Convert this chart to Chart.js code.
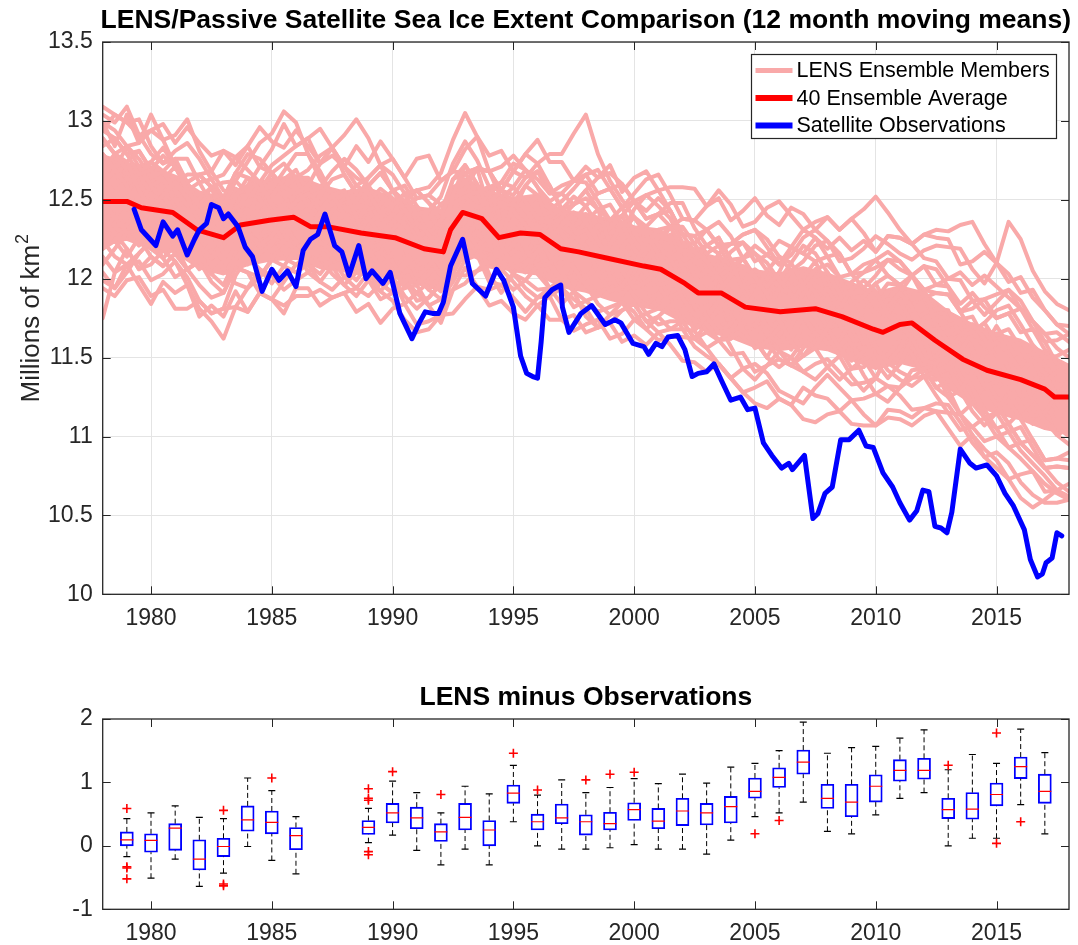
<!DOCTYPE html>
<html>
<head>
<meta charset="utf-8">
<script src="https://cdn.jsdelivr.net/npm/chart.js@4.4.1/dist/chart.umd.min.js"></script>
<style>
  html, body { margin: 0; padding: 0; background: #fff; }
  #wrap { position: relative; width: 1078px; height: 945px; }
  canvas { position: absolute; left: 0; }
  #top { top: 0; }
  #bottom { top: 645px; }
</style>
</head>
<body>
<div id="wrap">
  <canvas id="top" width="1078" height="645"></canvas>
  <canvas id="bottom" width="1078" height="300"></canvas>
</div>
<script>
// ---- top panel: 12 month moving means, millions of km2 ----
const xTicks = [1980, 1985, 1990, 1995, 2000, 2005, 2010, 2015];

const obsTimes = [1979.3, 1979.6, 1980.2, 1980.5, 1980.9, 1981.1, 1981.5, 1981.8, 1982.0, 1982.3,
  1982.5, 1982.8, 1983.0, 1983.2, 1983.6, 1983.9, 1984.2, 1984.6, 1985.0, 1985.3,
  1985.65, 1986.0, 1986.3, 1986.6, 1986.9, 1987.2, 1987.6, 1987.9, 1988.2, 1988.6,
  1988.9, 1989.15, 1989.6, 1989.9, 1990.3, 1990.8, 1991.1, 1991.35, 1991.65, 1991.9,
  1992.1, 1992.4, 1992.9, 1993.3, 1993.85, 1994.3, 1994.6, 1995.0, 1995.3, 1995.55,
  1995.8, 1996.0, 1996.15, 1996.3, 1996.6, 1996.96, 1997.03, 1997.3, 1997.8, 1998.24,
  1998.8, 1999.2, 1999.45, 1999.95, 2000.4, 2000.6, 2000.9, 2001.15, 2001.4, 2001.8,
  2002.1, 2002.4, 2002.65, 2003.0, 2003.3, 2003.6, 2004.0, 2004.4, 2004.7, 2005.0,
  2005.35, 2005.7, 2006.1, 2006.4, 2006.55, 2007.05, 2007.4, 2007.6, 2007.9, 2008.2,
  2008.55, 2008.9, 2009.3, 2009.6, 2009.9, 2010.3, 2010.7, 2011.0, 2011.4, 2011.7,
  2011.95, 2012.2, 2012.45, 2012.7, 2012.95, 2013.15, 2013.5, 2013.9, 2014.15, 2014.6,
  2015.0, 2015.35, 2015.7, 2016.15, 2016.4, 2016.7, 2016.9, 2017.05, 2017.3, 2017.5, 2017.7];
const obsValues = [12.44, 12.31, 12.21, 12.36, 12.27, 12.31, 12.15, 12.25, 12.31, 12.35,
  12.47, 12.45, 12.38, 12.41, 12.33, 12.20, 12.14, 11.92, 12.06, 11.99,
  12.05, 11.95, 12.18, 12.25, 12.28, 12.41, 12.21, 12.17, 12.02, 12.21,
  12.00, 12.05, 11.97, 12.04, 11.78, 11.62, 11.72, 11.79, 11.78, 11.78,
  11.85, 12.08, 12.25, 11.97, 11.89, 12.06, 11.99, 11.82, 11.51, 11.40,
  11.38, 11.37, 11.60, 11.88, 11.93, 11.96, 11.82, 11.66, 11.78, 11.83,
  11.71, 11.74, 11.72, 11.59, 11.57, 11.52, 11.59, 11.57, 11.63, 11.64,
  11.55, 11.38, 11.40, 11.41, 11.46, 11.36, 11.23, 11.25, 11.17, 11.18,
  10.96, 10.88, 10.80, 10.83, 10.79, 10.88, 10.48, 10.51, 10.64, 10.68,
  10.98, 10.98, 11.04, 10.94, 10.93, 10.77, 10.68, 10.58, 10.47, 10.53,
  10.66, 10.65, 10.43, 10.42, 10.39, 10.52, 10.92, 10.83, 10.80, 10.82,
  10.75, 10.64, 10.56, 10.41, 10.22, 10.11, 10.13, 10.20, 10.23, 10.39, 10.37];

const avgTimes = [1978.0, 1979.0, 1979.6, 1980.9, 1981.9, 1983.0, 1983.7, 1984.9, 1985.9, 1986.6,
  1987.3, 1988.7, 1990.1, 1991.3, 1992.1, 1992.4, 1992.9, 1993.7, 1994.4, 1995.3,
  1996.1, 1996.96, 1997.7, 1998.9, 2000.4, 2001.1, 2002.1, 2002.65, 2003.6, 2004.6,
  2006.05, 2007.5, 2008.6, 2009.9, 2010.3, 2011.0, 2011.5, 2012.45, 2013.6, 2014.6,
  2016.0, 2017.0, 2017.4, 2018.0];
const avgValues = [12.49, 12.49, 12.45, 12.42, 12.31, 12.26, 12.34, 12.37, 12.39, 12.33,
  12.33, 12.29, 12.26, 12.19, 12.17, 12.31, 12.42, 12.38, 12.26, 12.29,
  12.28, 12.19, 12.17, 12.13, 12.08, 12.06, 11.97, 11.91, 11.91, 11.82,
  11.79, 11.81, 11.76, 11.68, 11.66, 11.71, 11.72, 11.61, 11.49, 11.42,
  11.36, 11.30, 11.25, 11.25];

// dense middle of the ensemble spread, where the member lines overlap into one band
const coreTimes = [1978, 1979, 1980, 1981, 1982, 1983, 1984, 1985, 1986, 1987,
  1988, 1989, 1990, 1991, 1992, 1993, 1994, 1995, 1996, 1997,
  1998, 1999, 2000, 2001, 2002, 2003, 2004, 2005, 2006, 2007,
  2008, 2009, 2010, 2011, 2012, 2013, 2014, 2015, 2016, 2017, 2018];
const coreUpper = [12.78, 12.73, 12.71, 12.65, 12.55, 12.51, 12.59, 12.63, 12.65, 12.59,
  12.55, 12.57, 12.51, 12.45, 12.43, 12.63, 12.55, 12.51, 12.53, 12.43,
  12.41, 12.37, 12.33, 12.31, 12.23, 12.15, 12.11, 12.05, 12.03, 12.07,
  12.03, 11.97, 11.91, 11.95, 11.91, 11.79, 11.71, 11.65, 11.61, 11.53, 11.45];
const coreLower = [12.22, 12.25, 12.19, 12.17, 12.07, 12.03, 12.09, 12.12, 12.13, 12.07,
  12.05, 12.02, 12.01, 11.97, 11.93, 12.17, 12.09, 12.05, 12.03, 11.95,
  11.92, 11.87, 11.83, 11.81, 11.73, 11.67, 11.63, 11.57, 11.55, 11.57,
  11.55, 11.49, 11.43, 11.47, 11.43, 11.31, 11.21, 11.15, 11.11, 11.05, 11.02];

const memberTimes = [1978, 1978.5, 1979, 1979.5, 1980, 1980.5, 1981, 1981.5, 1982, 1982.5,
  1983, 1983.5, 1984, 1984.5, 1985, 1985.5, 1986, 1986.5, 1987, 1987.5,
  1988, 1988.5, 1989, 1989.5, 1990, 1990.5, 1991, 1991.5, 1992, 1992.5,
  1993, 1993.5, 1994, 1994.5, 1995, 1995.5, 1996, 1996.5, 1997, 1997.5,
  1998, 1998.5, 1999, 1999.5, 2000, 2000.5, 2001, 2001.5, 2002, 2002.5,
  2003, 2003.5, 2004, 2004.5, 2005, 2005.5, 2006, 2006.5, 2007, 2007.5,
  2008, 2008.5, 2009, 2009.5, 2010, 2010.5, 2011, 2011.5, 2012, 2012.5,
  2013, 2013.5, 2014, 2014.5, 2015, 2015.5, 2016, 2016.5, 2017, 2017.5, 2018];

const member01 = [13.09,13.04,12.99,12.91,12.79,12.73,12.76,12.76,12.61,12.48,
  12.36,12.52,12.64,12.61,12.47,12.38,12.29,12.29,12.43,12.53,
  12.56,12.39,12.19,12.07,12.16,12.29,12.36,12.28,12.17,12.28,
  12.32,12.20,12.18,12.26,12.48,12.59,12.53,12.34,12.14,12.07,
  11.96,12.04,12.22,12.35,12.39,12.28,12.16,12.03,11.88,11.77,
  11.81,11.91,12.02,12.08,12.01,11.90,11.74,11.60,11.51,11.56,
  11.69,11.81,11.93,11.99,11.92,11.77,11.71,11.62,11.48,11.46,
  11.55,11.64,11.71,11.62,11.45,11.28,11.16,11.23,11.35,11.41, 11.45];
const member02 = [11.75,12.04,12.09,12.11,11.99,12.03,12.11,12.01,11.86,11.78,
  11.81,12.02,12.14,12.06,11.97,12.08,12.19,12.04,11.98,12.08,
  12.11,12.24,12.39,12.27,12.11,11.94,12.01,12.08,12.17,12.53,
  12.72,12.60,12.43,12.21,12.08,12.04,12.18,12.29,12.39,12.47,
  12.56,12.44,12.22,12.05,11.94,11.98,12.06,12.13,12.18,12.17,
  12.11,12.01,11.87,11.68,11.56,11.60,11.69,11.85,11.96,12.06,
  12.09,12.01,11.83,11.64,11.47,11.37,11.46,11.62,11.73,11.71,
  11.60,11.44,11.31,11.12,11.00,11.03,11.06,10.93,10.80,10.71, 10.65];
const member03 = [12.69,12.79,12.74,12.56,12.44,12.53,12.61,12.51,12.36,12.38,
  12.46,12.62,12.74,12.86,12.92,13.06,12.99,12.79,12.63,12.53,
  12.41,12.29,12.19,12.22,12.36,12.44,12.31,12.13,12.02,12.13,
  12.12,12.20,12.28,12.36,12.33,12.19,12.08,12.09,12.19,12.27,
  12.21,12.04,11.92,11.95,12.09,12.23,12.31,12.23,12.08,11.92,
  11.76,11.66,11.67,11.78,11.91,12.05,12.14,12.10,11.96,11.81,
  11.69,11.56,11.48,11.54,11.67,11.82,11.91,11.82,11.63,11.41,
  11.25,11.29,11.41,11.52,11.60,11.53,11.41,11.23,11.10,11.01, 11.05];
const member04 = [12.84,12.89,12.79,12.66,12.69,12.78,12.71,12.56,12.46,12.48,
  12.51,12.47,12.34,12.26,12.37,12.48,12.44,12.29,12.33,12.43,
  12.51,12.59,12.54,12.42,12.46,12.54,12.56,12.58,12.67,12.88,
  13.05,12.90,12.68,12.56,12.48,12.39,12.28,12.14,12.14,12.27,
  12.36,12.44,12.47,12.35,12.19,12.08,11.96,11.98,12.08,12.12,
  12.21,12.26,12.12,11.93,11.81,11.70,11.64,11.75,11.91,12.01,
  12.04,11.91,11.73,11.59,11.62,11.77,11.91,12.02,11.93,11.71,
  11.55,11.39,11.26,11.12,11.15,11.28,11.41,11.48,11.40,11.26, 11.15];
const member05 = [12.49,12.39,12.29,12.31,12.44,12.53,12.41,12.26,12.26,12.33,
  12.41,12.42,12.29,12.21,12.27,12.38,12.49,12.54,12.48,12.33,
  12.21,12.09,12.19,12.32,12.41,12.34,12.21,12.28,12.37,12.48,
  12.52,12.45,12.48,12.56,12.68,12.64,12.73,12.79,12.79,12.92,
  13.04,12.79,12.62,12.50,12.39,12.28,12.31,12.33,12.18,12.02,
  11.91,12.01,12.07,12.13,12.16,12.10,11.99,11.90,11.81,11.71,
  11.59,11.61,11.73,11.79,11.87,11.97,11.96,11.82,11.68,11.66,
  11.70,11.74,11.76,11.62,11.50,11.38,11.26,11.28,11.35,11.26, 11.20];
const member06 = [12.19,12.29,12.19,12.06,12.09,12.18,12.11,11.96,11.81,11.73,
  11.62,11.82,11.94,12.06,12.02,11.93,11.99,12.04,12.13,12.08,
  11.96,11.89,11.99,12.07,12.01,11.89,11.81,11.88,11.97,12.03,
  12.02,12.05,12.08,12.06,11.98,11.89,11.83,11.89,11.94,11.87,
  11.81,11.69,11.72,11.80,11.84,11.73,11.76,11.83,11.83,11.67,
  11.56,11.46,11.37,11.43,11.46,11.40,11.29,11.25,11.21,11.31,
  11.39,11.31,11.23,11.24,11.27,11.32,11.26,11.17,11.18,11.21,
  11.20,11.09,10.96,10.87,10.90,10.83,10.71,10.63,10.58,10.58, 10.60];
const member07 = [12.99,12.94,12.84,12.86,12.94,12.88,12.71,12.61,12.66,12.68,
  12.56,12.52,12.59,12.71,12.67,12.58,12.54,12.59,12.73,12.83,
  12.91,13.01,12.89,12.72,12.56,12.44,12.31,12.18,12.07,12.13,
  12.27,12.35,12.43,12.46,12.43,12.34,12.23,12.24,12.34,12.42,
  12.36,12.24,12.12,12.00,12.04,12.18,12.26,12.33,12.33,12.22,
  12.11,12.01,11.82,11.68,11.71,11.80,11.94,12.05,12.01,11.91,
  11.79,11.86,11.98,12.04,12.12,12.17,12.11,12.02,11.88,11.71,
  11.60,11.64,11.66,11.72,11.80,11.83,11.71,11.58,11.50,11.51, 11.55];
const member08 = [12.59,12.69,12.59,12.41,12.34,12.43,12.51,12.36,12.21,12.13,
  12.21,12.42,12.54,12.51,12.37,12.23,12.19,12.24,12.38,12.48,
  12.41,12.24,12.14,12.17,12.31,12.39,12.31,12.18,12.07,12.18,
  12.32,12.40,12.48,12.51,12.48,12.34,12.18,12.09,12.14,12.27,
  12.31,12.19,12.02,11.90,11.99,12.13,12.21,12.13,11.98,11.82,
  11.86,12.01,12.07,11.98,11.81,11.65,11.59,11.70,11.86,11.96,
  11.89,11.71,11.58,11.59,11.72,11.87,11.86,11.72,11.53,11.41,
  11.45,11.54,11.66,11.72,11.60,11.43,11.26,11.13,11.15,11.26, 11.35];
const member09 = [12.39,12.29,12.34,12.46,12.54,12.48,12.31,12.16,12.16,12.28,
  12.36,12.37,12.24,12.16,12.22,12.33,12.49,12.54,12.43,12.28,
  12.16,12.19,12.34,12.42,12.36,12.19,12.01,11.93,12.02,12.33,
  12.52,12.55,12.38,12.16,12.08,12.14,12.28,12.34,12.24,12.07,
  11.96,11.89,11.97,12.10,12.19,12.13,11.96,11.83,11.68,11.67,
  11.76,11.86,11.87,11.73,11.61,11.50,11.44,11.50,11.61,11.56,
  11.44,11.36,11.43,11.49,11.52,11.42,11.36,11.32,11.38,11.41,
  11.30,11.14,11.01,10.92,10.85,10.73,10.61,10.55,10.60,10.66, 10.70];
const member10 = [12.79,12.69,12.59,12.66,12.74,12.68,12.56,12.46,12.51,12.58,
  12.61,12.62,12.54,12.46,12.52,12.63,12.69,12.54,12.43,12.33,
  12.26,12.34,12.49,12.57,12.51,12.34,12.21,12.23,12.37,12.63,
  12.72,12.60,12.43,12.31,12.43,12.59,12.68,12.59,12.44,12.37,
  12.46,12.54,12.57,12.45,12.29,12.18,12.21,12.33,12.38,12.37,
  12.31,12.21,12.22,12.28,12.31,12.20,12.09,12.15,12.26,12.31,
  12.24,12.11,12.13,12.19,12.27,12.22,12.16,12.12,12.18,12.21,
  12.20,12.19,12.06,11.97,12.10,12.36,12.25,12.05,11.92,11.84, 11.80];
const member11 = [12.29,12.39,12.49,12.36,12.19,12.13,12.21,12.26,12.16,12.03,
  11.96,12.12,12.24,12.31,12.22,12.13,12.09,12.14,12.23,12.18,
  12.06,11.99,12.09,12.17,12.11,11.99,11.86,11.88,11.97,12.08,
  12.22,12.30,12.18,12.01,11.93,11.99,12.08,12.14,12.04,11.92,
  11.86,11.89,11.97,12.00,11.89,11.78,11.81,11.88,11.93,11.82,
  11.71,11.61,11.62,11.68,11.71,11.60,11.49,11.45,11.56,11.66,
  11.69,11.56,11.43,11.44,11.52,11.47,11.41,11.37,11.43,11.46,
  11.45,11.29,11.16,11.07,11.15,11.23,11.11,10.98,10.85,10.86, 10.90];
const member12 = [12.89,12.79,12.69,12.71,12.59,12.48,12.51,12.56,12.61,12.63,
  12.66,12.77,12.69,12.61,12.57,12.68,12.79,12.79,12.68,12.53,
  12.41,12.49,12.64,12.72,12.66,12.54,12.41,12.43,12.52,12.73,
  12.87,12.75,12.58,12.56,12.68,12.79,12.73,12.59,12.44,12.47,
  12.56,12.64,12.67,12.60,12.49,12.38,12.41,12.48,12.48,12.32,
  12.21,12.16,12.22,12.28,12.31,12.25,12.14,12.05,12.11,12.21,
  12.24,12.16,12.03,11.94,12.02,12.12,12.11,12.02,11.93,11.96,
  12.00,11.99,11.86,11.77,11.85,11.93,11.86,11.73,11.60,11.46, 11.40];
const member13 = [12.44,12.54,12.64,12.56,12.44,12.33,12.36,12.41,12.41,12.28,
  12.16,12.12,12.19,12.36,12.47,12.43,12.29,12.14,12.18,12.28,
  12.31,12.19,12.04,11.92,11.86,11.74,11.66,11.68,11.77,12.03,
  12.17,12.25,12.33,12.36,12.28,12.19,12.23,12.34,12.39,12.32,
  12.16,12.04,12.07,12.20,12.29,12.23,12.06,11.93,11.93,11.97,
  12.01,11.91,11.72,11.63,11.71,11.85,11.94,11.90,11.76,11.66,
  11.69,11.76,11.83,11.74,11.57,11.47,11.56,11.72,11.78,11.81,
  11.80,11.64,11.46,11.32,11.35,11.48,11.56,11.43,11.25,11.06, 11.00];
const member14 = [12.64,12.54,12.44,12.46,12.59,12.63,12.51,12.31,12.31,12.38,
  12.31,12.27,12.34,12.46,12.57,12.53,12.39,12.24,12.28,12.38,
  12.46,12.39,12.29,12.22,12.31,12.39,12.31,12.18,12.07,12.28,
  12.32,12.20,12.08,12.06,12.18,12.14,12.03,11.94,11.99,12.02,
  11.96,11.84,11.77,11.80,11.84,11.73,11.66,11.68,11.68,11.57,
  11.51,11.46,11.37,11.28,11.21,11.18,11.24,11.20,11.11,11.09,
  11.14,11.16,11.08,11.07,11.07,11.12,11.11,11.07,11.13,11.16,
  11.15,11.04,11.06,11.12,11.15,11.03,10.91,10.83,10.75,10.66, 10.60];
const member15 = [12.94,13.04,12.99,13.01,12.84,12.73,12.81,12.86,12.76,12.63,
  12.51,12.67,12.79,12.76,12.67,12.58,12.64,12.69,12.78,12.83,
  12.71,12.59,12.64,12.72,12.76,12.64,12.51,12.53,12.62,12.68,
  12.67,12.55,12.53,12.61,12.73,12.69,12.58,12.44,12.49,12.57,
  12.66,12.69,12.57,12.45,12.54,12.63,12.66,12.53,12.38,12.37,
  12.46,12.56,12.47,12.33,12.36,12.45,12.49,12.40,12.31,12.36,
  12.39,12.31,12.38,12.44,12.52,12.42,12.31,12.22,12.28,12.31,
  12.30,12.34,12.36,12.22,12.10,12.03,11.91,11.93,11.80,11.71, 11.70];
const member16 = [12.09,12.19,12.29,12.21,12.29,12.38,12.31,12.16,12.06,12.13,
  12.26,12.42,12.34,12.26,12.17,12.23,12.39,12.44,12.38,12.28,
  12.16,12.09,12.19,12.27,12.31,12.19,12.06,12.08,12.22,12.33,
  12.32,12.20,12.18,12.26,12.38,12.34,12.23,12.09,12.09,12.17,
  12.26,12.34,12.27,12.15,11.99,11.93,12.01,12.13,12.13,12.02,
  11.91,11.81,11.82,11.93,11.96,11.85,11.74,11.70,11.81,11.91,
  11.94,11.81,11.63,11.54,11.62,11.72,11.71,11.57,11.48,11.51,
  11.60,11.69,11.56,11.37,11.25,11.18,11.26,11.38,11.40,11.26, 11.20];
const member17 = [11.99,11.94,12.04,12.16,12.24,12.13,12.01,12.06,12.11,12.18,
  12.06,11.97,11.94,12.01,12.12,12.28,12.39,12.24,12.13,12.03,
  11.96,12.04,12.19,12.22,12.11,12.04,12.11,12.18,12.27,12.38,
  12.37,12.20,12.03,11.91,12.03,12.14,12.08,11.94,11.84,11.92,
  12.01,12.09,12.17,12.05,11.89,11.83,11.91,11.98,11.98,11.82,
  11.66,11.61,11.67,11.78,11.81,11.70,11.54,11.45,11.51,11.61,
  11.64,11.51,11.38,11.29,11.37,11.52,11.61,11.52,11.38,11.36,
  11.40,11.44,11.46,11.32,11.20,11.08,10.96,10.88,10.80,10.81, 10.80];
const member18 = [12.74,12.64,12.74,12.81,12.69,12.58,12.61,12.66,12.66,12.58,
  12.46,12.42,12.49,12.61,12.72,12.78,12.84,12.89,12.95,12.83,
  12.66,12.54,12.44,12.47,12.56,12.59,12.46,12.33,12.37,12.48,
  12.52,12.55,12.58,12.61,12.58,12.49,12.38,12.39,12.44,12.52,
  12.46,12.34,12.22,12.30,12.44,12.53,12.56,12.43,12.28,12.17,
  12.01,12.06,12.17,12.23,12.16,12.05,11.99,12.10,12.21,12.16,
  12.04,11.91,11.83,11.89,11.97,12.02,11.96,11.87,11.88,11.91,
  11.90,11.79,11.66,11.57,11.65,11.68,11.56,11.43,11.30,11.16, 11.10];
const member19 = [12.24,12.14,12.09,12.16,12.24,12.33,12.21,12.06,11.96,11.88,
  11.91,12.07,12.04,11.91,11.87,11.98,12.09,12.09,11.98,11.93,
  12.01,12.09,11.99,11.87,11.91,12.04,12.06,11.93,11.87,11.93,
  11.97,12.05,12.13,12.11,12.03,11.94,11.88,11.94,11.99,11.92,
  11.76,11.69,11.77,11.85,11.79,11.68,11.61,11.63,11.63,11.62,
  11.66,11.71,11.57,11.43,11.36,11.45,11.54,11.50,11.41,11.36,
  11.44,11.51,11.53,11.39,11.27,11.22,11.31,11.42,11.43,11.31,
  11.35,11.39,11.31,11.17,11.05,10.93,10.86,10.78,10.70,10.64, 10.60];
const member20 = [12.89,12.79,12.84,12.76,12.64,12.68,12.76,12.61,12.46,12.38,
  12.41,12.57,12.54,12.46,12.37,12.43,12.54,12.54,12.58,12.68,
  12.76,12.69,12.59,12.47,12.36,12.44,12.51,12.53,12.47,12.53,
  12.62,12.70,12.68,12.71,12.78,12.69,12.58,12.49,12.54,12.62,
  12.61,12.49,12.37,12.40,12.49,12.53,12.46,12.38,12.23,12.22,
  12.31,12.36,12.27,12.13,12.01,11.95,12.04,12.20,12.31,12.26,
  12.14,12.01,12.03,12.09,12.12,12.02,11.96,12.02,12.08,12.06,
  11.95,11.79,11.81,11.87,11.90,11.93,11.81,11.68,11.60,11.61, 11.65];
const member21 = [12.99,12.84,13.04,12.86,13.04,12.88,12.91,13.01,12.81,12.68,
  12.81,12.72,12.84,12.71,12.82,12.98,12.84,12.89,12.73,12.83,
  12.71,12.84,12.74,12.87,12.76,12.64,12.76,12.78,12.62,12.68,
  12.82,12.90,12.78,12.81,12.68,12.79,12.88,12.74,12.74,12.62,
  12.71,12.64,12.72,12.55,12.64,12.68,12.56,12.58,12.58,12.57,
  12.46,12.51,12.37,12.43,12.51,12.40,12.34,12.45,12.41,12.31,
  12.39,12.31,12.38,12.29,12.17,12.27,12.26,12.22,12.28,12.26,
  12.25,12.09,12.11,12.17,12.10,11.98,12.01,11.88,11.80,11.71, 11.65];
const member22 = [12.04,11.94,12.09,11.96,11.84,11.98,11.91,11.96,11.76,11.83,
  11.76,11.92,11.79,11.91,11.87,11.78,11.94,11.94,11.83,11.88,
  11.91,11.79,11.84,11.72,11.81,11.84,11.71,11.73,11.77,11.78,
  11.87,11.95,11.83,11.86,11.78,11.74,11.83,11.74,11.74,11.77,
  11.66,11.69,11.72,11.60,11.64,11.58,11.66,11.58,11.48,11.47,
  11.41,11.46,11.37,11.28,11.31,11.35,11.24,11.20,11.31,11.26,
  11.24,11.16,11.23,11.14,11.07,11.17,11.16,11.12,11.18,11.16,
  11.05,10.94,11.01,10.87,10.80,10.73,10.76,10.78,10.65,10.66, 10.62];
const member23 = [12.79,12.69,12.84,12.71,12.74,12.83,12.71,12.61,12.66,12.58,
  12.51,12.67,12.64,12.56,12.67,12.73,12.64,12.64,12.53,12.63,
  12.66,12.54,12.59,12.67,12.56,12.49,12.56,12.48,12.42,12.63,
  12.67,12.70,12.68,12.56,12.53,12.64,12.68,12.54,12.54,12.47,
  12.51,12.44,12.37,12.45,12.49,12.38,12.41,12.43,12.28,12.27,
  12.31,12.21,12.22,12.23,12.11,12.15,12.24,12.20,12.16,12.11,
  12.14,12.16,12.03,12.04,12.07,12.12,12.06,12.02,12.08,11.96,
  11.95,11.84,11.91,11.82,11.75,11.78,11.81,11.73,11.65,11.66, 11.60];
const member24 = [12.19,12.24,12.14,12.26,12.14,12.08,12.16,12.06,12.11,11.98,
  11.91,12.07,12.04,12.01,12.12,12.08,12.04,12.09,12.03,12.13,
  12.01,11.94,12.04,11.97,11.91,11.94,11.96,11.83,11.87,11.98,
  12.12,12.15,11.98,11.96,12.03,11.99,11.93,11.94,11.94,11.82,
  11.86,11.79,11.82,11.85,11.74,11.78,11.71,11.73,11.73,11.62,
  11.56,11.61,11.52,11.53,11.41,11.45,11.49,11.45,11.41,11.46,
  11.49,11.41,11.33,11.34,11.37,11.32,11.31,11.37,11.38,11.26,
  11.15,11.14,11.06,10.97,11.00,10.93,10.96,10.88,10.80,10.81, 10.80];
const member25 = [12.94,12.89,12.79,12.81,12.69,12.63,12.71,12.56,12.41,12.43,
  12.31,12.32,12.44,12.36,12.27,12.33,12.24,12.14,12.23,12.13,
  12.06,12.14,11.99,11.92,12.01,11.84,11.91,11.83,11.72,11.93,
  12.07,11.95,11.93,11.96,11.88,11.79,11.88,11.89,11.74,11.67,
  11.71,11.74,11.62,11.65,11.74,11.68,11.76,11.68,11.73,11.62,
  11.71,11.66,11.72,11.63,11.71,11.65,11.74,11.70,11.81,11.86,
  11.89,11.81,11.88,11.89,11.77,11.87,11.96,11.87,11.93,11.91,
  11.90,11.79,11.86,11.87,11.75,11.78,11.66,11.68,11.55,11.46, 11.40];
const member26 = [12.14,12.04,12.19,12.06,12.14,12.08,12.16,12.06,12.11,12.03,
  12.11,12.12,12.24,12.21,12.32,12.28,12.39,12.29,12.38,12.33,
  12.41,12.34,12.44,12.47,12.36,12.39,12.46,12.38,12.47,12.53,
  12.67,12.70,12.68,12.51,12.58,12.69,12.63,12.54,12.59,12.62,
  12.66,12.54,12.57,12.60,12.49,12.43,12.51,12.43,12.28,12.27,
  12.16,12.21,12.07,11.98,12.06,12.00,11.89,11.95,11.86,11.81,
  11.69,11.71,11.58,11.49,11.57,11.47,11.46,11.57,11.43,11.31,
  11.25,11.14,11.21,11.12,11.05,11.08,10.96,10.98,10.85,10.86, 10.85];
const member27 = [12.64,12.79,12.54,12.66,12.54,12.68,12.46,12.56,12.46,12.58,
  12.36,12.57,12.39,12.56,12.67,12.48,12.64,12.44,12.53,12.38,
  12.51,12.39,12.54,12.32,12.46,12.54,12.36,12.43,12.27,12.53,
  12.57,12.70,12.43,12.46,12.33,12.44,12.53,12.34,12.39,12.32,
  12.41,12.24,12.32,12.40,12.24,12.28,12.16,12.28,12.13,12.12,
  12.01,12.16,12.02,12.13,12.01,11.90,12.04,11.95,12.01,12.11,
  11.94,12.01,11.83,11.89,11.97,11.82,11.91,11.82,11.93,11.76,
  11.75,11.59,11.71,11.57,11.70,11.58,11.46,11.53,11.45,11.36, 11.35];
const member28 = [12.34,12.44,12.29,12.36,12.19,12.33,12.21,12.31,12.16,12.18,
  12.06,12.22,12.09,12.21,12.32,12.18,12.29,12.09,12.23,12.13,
  12.21,12.04,12.14,12.22,12.06,12.14,11.96,12.03,12.12,12.18,
  12.22,12.30,12.08,12.11,12.23,12.09,12.18,12.04,11.94,12.07,
  12.01,11.89,12.02,11.90,12.04,11.93,11.81,11.93,11.78,11.77,
  11.71,11.81,11.62,11.68,11.61,11.50,11.64,11.55,11.71,11.61,
  11.64,11.51,11.63,11.49,11.37,11.52,11.51,11.47,11.53,11.51,
  11.35,11.34,11.21,11.32,11.20,11.08,11.16,11.08,11.15,11.06, 11.05];
const member29 = [13.04,12.99,13.09,12.91,12.94,12.98,12.86,12.96,12.86,12.78,
  12.81,12.77,12.84,12.96,12.87,12.83,12.94,12.84,12.73,12.78,
  12.71,12.64,12.59,12.67,12.56,12.49,12.56,12.48,12.37,12.58,
  12.62,12.55,12.58,12.36,12.43,12.34,12.38,12.44,12.29,12.17,
  12.21,12.09,12.12,12.20,12.09,11.98,12.01,12.03,12.08,11.97,
  11.91,12.01,11.92,11.78,11.86,11.80,11.69,11.80,11.91,11.86,
  11.74,11.81,11.73,11.59,11.67,11.77,11.76,11.67,11.68,11.71,
  11.60,11.44,11.51,11.37,11.30,11.38,11.26,11.13,11.15,11.01, 10.95];
const member30 = [11.94,11.89,11.99,12.01,11.89,11.93,11.81,11.81,11.86,11.78,
  11.81,11.82,11.79,11.91,11.87,11.83,11.89,11.89,11.93,11.88,
  11.91,11.94,11.89,11.97,11.91,11.99,11.91,11.98,11.92,12.18,
  12.32,12.25,12.33,12.21,12.33,12.29,12.38,12.29,12.34,12.27,
  12.36,12.29,12.37,12.30,12.39,12.33,12.41,12.33,12.18,12.17,
  12.21,12.26,12.12,12.13,12.21,12.15,12.09,12.20,12.16,12.26,
  12.19,12.26,12.18,12.24,12.17,12.27,12.26,12.22,12.13,12.11,
  12.00,12.04,11.96,12.02,11.95,11.88,11.81,11.73,11.65,11.56, 11.50];
const members = [member01, member02, member03, member04, member05, member06, member07,
  member08, member09, member10, member11, member12, member13, member14, member15,
  member16, member17, member18, member19, member20, member21, member22, member23,
  member24, member25, member26, member27, member28, member29, member30];

// ---- bottom panel: LENS minus observations, one box per year ----
const boxYears = [1979, 1980, 1981, 1982, 1983, 1984, 1985, 1986, 1989, 1990,
  1991, 1992, 1993, 1994, 1995, 1996, 1997, 1998, 1999, 2000,
  2001, 2002, 2003, 2004, 2005, 2006, 2007, 2008, 2009, 2010,
  2011, 2012, 2013, 2014, 2015, 2016, 2017];
const boxQ1 = [0.00, -0.10, -0.07, -0.38, -0.17, 0.23, 0.19, -0.06, 0.18, 0.36,
  0.27, 0.07, 0.25, 0.00, 0.67, 0.25, 0.35, 0.17, 0.25, 0.40,
  0.27, 0.32, 0.33, 0.36, 0.75, 0.92, 1.13, 0.59, 0.46, 0.69,
  1.02, 1.05, 0.43, 0.42, 0.63, 1.06, 0.67];
const boxMedian = [0.095, 0.085, 0.28, -0.21, -0.01, 0.41, 0.37, 0.16, 0.29, 0.52,
  0.44, 0.22, 0.45, 0.25, 0.83, 0.38, 0.44, 0.38, 0.35, 0.57,
  0.39, 0.55, 0.52, 0.62, 0.86, 1.08, 1.32, 0.75, 0.69, 0.94,
  1.19, 1.19, 0.57, 0.58, 0.81, 1.25, 0.86];
const boxQ3 = [0.22, 0.19, 0.35, 0.095, 0.12, 0.63, 0.55, 0.29, 0.40, 0.67,
  0.61, 0.35, 0.67, 0.40, 0.96, 0.50, 0.66, 0.49, 0.53, 0.68,
  0.59, 0.75, 0.67, 0.78, 1.07, 1.23, 1.51, 0.97, 0.97, 1.12,
  1.36, 1.38, 0.75, 0.84, 0.99, 1.40, 1.13];
const whiskerLow = [-0.17, -0.51, -0.21, -0.64, -0.43, -0.01, -0.23, -0.44, 0.05, 0.17,
  -0.07, -0.30, -0.05, -0.30, 0.38, 0.00, -0.05, -0.05, -0.03, 0.02,
  -0.05, -0.05, -0.13, 0.09, 0.46, 0.52, 0.69, 0.23, 0.19, 0.49,
  0.75, 0.84, 0.00, 0.12, 0.12, 0.65, 0.19];
const whiskerHigh = [0.43, 0.52, 0.63, 0.45, 0.43, 1.07, 0.87, 0.46, 0.59, 1.02,
  0.84, 0.52, 0.94, 0.82, 1.27, 0.80, 1.04, 0.84, 0.92, 1.06,
  0.98, 1.13, 0.99, 1.24, 1.30, 1.50, 1.95, 1.46, 1.55, 1.57,
  1.70, 1.83, 1.20, 1.44, 1.30, 1.84, 1.47];
const outlierYears = [1979, 1979, 1979, 1979, 1983, 1983, 1983, 1985, 1989, 1989,
  1989, 1989, 1989, 1990, 1992, 1995, 1996, 1998, 1999, 2000,
  2005, 2006, 2013, 2015, 2015, 2016];
const outlierValues = [0.59, -0.33, -0.35, -0.52, 0.56, -0.60, -0.63, 1.07, 0.90, 0.72,
  0.75, -0.09, -0.14, 1.17, 0.81, 1.46, 0.88, 1.04, 1.13, 1.16,
  0.19, 0.40, 1.27, 1.78, 0.04, 0.38];

const INK = '#262626';
const PINK = '#f9a9a9';
const RED = '#ff0000';
const BLUE = '#0000ff';
const GRID = '#e4e4e4';
const FONT = '"Liberation Sans", Arial, Helvetica, sans-serif';

Chart.defaults.font.family = FONT;
Chart.defaults.color = INK;

const plainTick = v => String(v);

// frame, inward ticks, plot-centred title and y label with a raised 2 (matlab look)
const framePlugin = {
  id: 'frame',
  afterDatasetsDraw(chart, args, opts) {
    const { ctx, chartArea: a, scales: { x, y } } = chart;
    ctx.save();
    ctx.strokeStyle = INK;
    ctx.lineWidth = 1;
    ctx.beginPath();
    x.ticks.forEach(t => {
      const px = Math.round(x.getPixelForValue(t.value)) + 0.5;
      ctx.moveTo(px, a.bottom); ctx.lineTo(px, a.bottom - opts.tick);
      ctx.moveTo(px, a.top); ctx.lineTo(px, a.top + opts.tick);
    });
    y.ticks.forEach(t => {
      const py = Math.round(y.getPixelForValue(t.value)) + 0.5;
      ctx.moveTo(a.left, py); ctx.lineTo(a.left + opts.tick, py);
      ctx.moveTo(a.right, py); ctx.lineTo(a.right - opts.tick, py);
    });
    ctx.stroke();
    ctx.lineWidth = 1.3;
    ctx.strokeRect(a.left, a.top, a.width, a.height);

    ctx.fillStyle = '#000';
    ctx.font = 'bold ' + opts.titleSize + 'px ' + FONT;
    ctx.textAlign = 'center';
    ctx.textBaseline = 'alphabetic';
    ctx.fillText(opts.title, (a.left + a.right) / 2, opts.titleY);

    if (opts.yTitle) {
      ctx.translate(opts.yTitleX, (a.top + a.bottom) / 2);
      ctx.rotate(-Math.PI / 2);
      ctx.fillStyle = INK;
      ctx.textAlign = 'left';
      ctx.font = '26px ' + FONT;
      const w1 = ctx.measureText(opts.yTitle).width;
      ctx.font = '18px ' + FONT;
      const w2 = ctx.measureText(opts.yTitleSup).width;
      const start = -(w1 + w2 + 1) / 2;
      ctx.font = '26px ' + FONT;
      ctx.fillText(opts.yTitle, start, 0);
      ctx.font = '18px ' + FONT;
      ctx.fillText(opts.yTitleSup, start + w1 + 1, -11);
    }
    ctx.restore();
  }
};

// boxed legend in the upper right corner of the plot
const boxLegend = {
  id: 'boxLegend',
  afterDraw(chart, args, opts) {
    const { ctx, chartArea: a } = chart;
    const w = 305, h = 84;
    const left = a.right - 12.5 - w, top = a.top + 12.5;
    ctx.save();
    ctx.fillStyle = '#fff';
    ctx.fillRect(left, top, w, h);
    ctx.strokeStyle = INK;
    ctx.lineWidth = 1.2;
    ctx.strokeRect(left, top, w, h);
    ctx.font = '21.5px ' + FONT;
    ctx.textBaseline = 'middle';
    ctx.textAlign = 'left';
    opts.items.forEach((it, i) => {
      const cy = top + 16 + i * 27.5;
      ctx.strokeStyle = it.color;
      ctx.lineWidth = it.width;
      ctx.beginPath();
      ctx.moveTo(left + 4, cy);
      ctx.lineTo(left + 41, cy);
      ctx.stroke();
      ctx.fillStyle = '#000';
      ctx.fillText(it.label, left + 45, cy + 1);
    });
    ctx.restore();
  }
};

const lineStyle = { pointRadius: 0, tension: 0, borderJoinStyle: 'round', borderCapStyle: 'round' };

const topDatasets = [
  { label: 'Satellite Observations', data: obsTimes.map((t, i) => ({ x: t, y: obsValues[i] })),
    borderColor: BLUE, borderWidth: 5, ...lineStyle },
  { label: '40 Ensemble Average', data: avgTimes.map((t, i) => ({ x: t, y: avgValues[i] })),
    borderColor: RED, borderWidth: 5, ...lineStyle },
  ...members.map((m, k) => ({
    label: k === 0 ? 'LENS Ensemble Members' : '',
    data: memberTimes.map((t, i) => ({ x: t, y: m[i] })),
    borderColor: PINK, borderWidth: 4, ...lineStyle
  })),
  { label: '', data: coreTimes.map((t, i) => ({ x: t, y: coreUpper[i] })),
    borderColor: PINK, borderWidth: 3, backgroundColor: PINK, fill: '+1', ...lineStyle },
  { label: '', data: coreTimes.map((t, i) => ({ x: t, y: coreLower[i] })),
    borderColor: PINK, borderWidth: 3, ...lineStyle }
];

new Chart(document.getElementById('top'), {
  type: 'line',
  data: { datasets: topDatasets },
  options: {
    responsive: false,
    devicePixelRatio: 1,
    animation: false,
    layout: { padding: { top: 42, right: 9, left: 0, bottom: 0 } },
    plugins: {
      legend: { display: false },
      tooltip: { enabled: false },
      frame: { tick: 8, titleSize: 26.5, titleY: 28,
        title: 'LENS/Passive Satellite Sea Ice Extent Comparison (12 month moving means)',
        yTitle: 'Millions of km', yTitleSup: '2', yTitleX: 39 },
      boxLegend: { items: [
        { label: 'LENS Ensemble Members', color: PINK, width: 5 },
        { label: '40 Ensemble Average', color: RED, width: 6 },
        { label: 'Satellite Observations', color: BLUE, width: 6 }
      ] }
    },
    scales: {
      x: {
        type: 'linear', min: 1978, max: 2018,
        afterBuildTicks: s => { s.ticks = xTicks.map(v => ({ value: v })); },
        afterFit: s => { s.height = 50.7; },
        grid: { color: GRID, drawTicks: false },
        border: { display: false },
        ticks: { font: { size: 23 }, color: INK, padding: 11, maxRotation: 0, autoSkip: false,
          callback: plainTick }
      },
      y: {
        min: 10, max: 13.5,
        afterFit: s => { s.width = 102.7; },
        grid: { color: GRID, drawTicks: false },
        border: { display: false },
        ticks: { stepSize: 0.5, font: { size: 23 }, color: INK, padding: 10, callback: plainTick }
      }
    }
  },
  plugins: [framePlugin, boxLegend]
});

// whiskers as dashed segments, broken with nulls between boxes
const whiskerData = [];
boxYears.forEach((yr, i) => {
  whiskerData.push({ x: yr, y: whiskerLow[i] }, { x: yr, y: boxQ1[i] }, { x: yr, y: null },
    { x: yr, y: boxQ3[i] }, { x: yr, y: whiskerHigh[i] }, { x: yr, y: null });
});
const capData = [];
boxYears.forEach((yr, i) => {
  capData.push({ x: yr, y: whiskerLow[i] }, { x: yr, y: whiskerHigh[i] });
});

new Chart(document.getElementById('bottom'), {
  type: 'bar',
  data: {
    datasets: [
      { type: 'scatter', data: outlierYears.map((yr, i) => ({ x: yr, y: outlierValues[i] })),
        pointStyle: 'cross', pointRadius: 4.5, borderColor: RED, borderWidth: 1.6 },
      { type: 'scatter', data: boxYears.map((yr, i) => ({ x: yr, y: boxMedian[i] })),
        pointStyle: 'line', pointRadius: 6.5, borderColor: RED, borderWidth: 1.2 },
      { type: 'scatter', data: capData,
        pointStyle: 'line', pointRadius: 3.5, borderColor: '#000', borderWidth: 1.2 },
      { type: 'line', data: whiskerData, borderColor: '#000', borderWidth: 1, borderDash: [5, 3],
        pointRadius: 0, spanGaps: false },
      { type: 'bar', data: boxYears.map((yr, i) => ({ x: yr, y: [boxQ1[i], boxQ3[i]] })),
        backgroundColor: 'rgba(255,255,255,0)', borderColor: BLUE, borderWidth: 1.2,
        barThickness: 13, borderSkipped: false, grouped: false }
    ]
  },
  options: {
    responsive: false,
    devicePixelRatio: 1,
    animation: false,
    layout: { padding: { top: 74, right: 9, left: 0, bottom: 0 } },
    plugins: {
      legend: { display: false },
      tooltip: { enabled: false },
      frame: { tick: 8, titleSize: 26.5, titleY: 60, title: 'LENS minus Observations' }
    },
    scales: {
      x: {
        type: 'linear', min: 1978, max: 2018, offset: false,
        afterBuildTicks: s => { s.ticks = xTicks.map(v => ({ value: v })); },
        afterFit: s => { s.height = 35.7; },
        grid: { display: false, drawTicks: false },
        border: { display: false },
        ticks: { font: { size: 23 }, color: INK, padding: 11, maxRotation: 0, autoSkip: false,
          callback: plainTick }
      },
      y: {
        min: -1, max: 2,
        afterFit: s => { s.width = 102.7; },
        grid: { display: false, drawTicks: false },
        border: { display: false },
        ticks: { stepSize: 1, font: { size: 23 }, color: INK, padding: 10, callback: plainTick }
      }
    }
  },
  plugins: [framePlugin]
});
</script>
</body>
</html>
